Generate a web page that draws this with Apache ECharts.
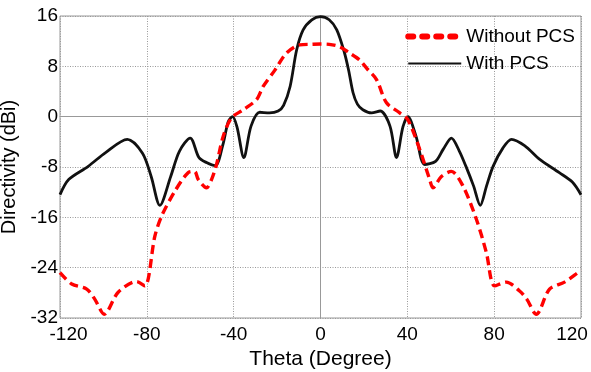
<!doctype html>
<html>
<head>
<meta charset="utf-8">
<title>Directivity</title>
<script src="https://cdn.jsdelivr.net/npm/echarts@6/dist/echarts.min.js"></script>
<style>
  html, body { margin: 0; padding: 0; background: #fff; }
  #main { width: 591px; height: 372px; }
</style>
</head>
<body>
<div id="main"></div>
<script>
// values
var xTicks = [-120, -80, -40, 0, 40, 80, 120];
var yTicks = [-32, -24, -16, -8, 0, 8, 16];

var withTheta = [-120, -116, -107, -99, -89, -82, -78, -74, -69, -65, -60, -56, -52.5, -48.5, -45, -42.5, -40.5, -38.5, -35.3, -32, -28, -23.5, -19.5, -17, -14, -11, -8, -4, 0,
                 4, 7.5, 11, 13, 15, 17, 19.5, 23.5, 27.5, 32, 35, 38, 40.3, 44, 48, 53, 56.5, 60.3, 64, 67, 70.5, 73.6, 76.5, 79.5, 84, 88, 94, 101, 110, 116, 120];
var withVals  = [-12.4, -10, -7.9, -5.7, -3.6, -5.8, -9.5, -14.1, -9.5, -5.5, -3.4, -6.5, -7.3, -7.8, -4.5, -0.8, 0, -1.6, -6.5, -1.5, 0.7, 0.6, 0.9, 1.8, 4.8, 10.6, 13.8, 15.4, 15.9,
                 15.4, 13.8, 10.2, 7.3, 3.8, 2, 1.1, 0.6, 0.9, -1.5, -6.5, -1.6, 0, -3.1, -7.6, -7.1, -5.2, -3.4, -5.5, -7.9, -11, -14.1, -11, -7.9, -5, -3.6, -4.6, -6.8, -8.9, -10.4, -12.4];

var withoutTheta = [-120, -114.6, -107.7, -104, -99.6, -93.2, -84.7, -80.9, -76.3, -73.2, -67, -61, -58, -56.3, -52.5, -50.2, -47.9, -44.8, -41, -35.6, -29.5, -26.4, -21, -15.7, -9.5, -4, 0,
                    4, 8.9, 13, 18, 21.5, 25.8, 30.4, 36.5, 40.3, 45.7, 50.3, 51.8, 55.7, 60.3, 65.6, 71.8, 76.4, 80.2, 85.6, 91.7, 95, 99.4, 105.5, 112.4, 118.6, 120];
var withoutVals  = [-24.8, -26.6, -27.4, -29, -31.4, -27.9, -26.2, -26.9, -19, -15.8, -11.8, -8.9, -8.7, -10, -11.3, -10, -7.6, -3.1, -0.2, 1.1, 2.7, 4.8, 7.4, 10.1, 11.4, 11.5, 11.55,
                    11.5, 11.1, 10.2, 9, 7.6, 5.9, 2.2, 0.6, -0.5, -5.2, -10, -11.3, -9.5, -8.7, -11, -16.3, -21.6, -26.9, -26.3, -27.7, -29, -31.4, -27.4, -26.3, -24.8, -24.4];

function pairs(xs, ys) {
    var out = [];
    for (var i = 0; i < xs.length; i++) out.push([xs[i], ys[i]]);
    return out;
}

var chart = echarts.init(document.getElementById('main'));
var font = 'Liberation Sans, Arial, sans-serif';
var tickFont = { fontFamily: font, fontSize: 19, color: '#000' };

chart.setOption({
    animation: false,
    grid: {
        left: 60, right: 10, top: 16, bottom: 54,
        outerBoundsMode: 'none',
        containLabel: false,
        show: true, borderColor: '#999', borderWidth: 1
    },
    legend: {
        right: 11, top: 22,
        orient: 'vertical',
        itemWidth: 53, itemHeight: 14, itemGap: 8,
        itemStyle: { opacity: 0 },
        textStyle: { fontFamily: font, fontSize: 19, color: '#000' },
        data: [
            { name: 'Without PCS', lineStyle: { width: 6, type: [5, 9], cap: 'round', color: '#ff0000' } },
            { name: 'With PCS', lineStyle: { width: 2.2, color: '#111' } }
        ]
    },
    xAxis: {
        type: 'value',
        min: -120, max: 120, interval: 40,
        name: 'Theta (Degree)',
        nameLocation: 'middle',
        nameGap: 28,
        nameTextStyle: { fontFamily: font, fontSize: 21, color: '#000' },
        axisLine: { lineStyle: { color: '#999' } },
        axisTick: { show: false },
        axisLabel: {
            fontFamily: font, fontSize: 19, color: '#000', margin: 7,
            formatter: function (v) {
                if (v === xTicks[0]) return '{l|' + v + '}';
                if (v === xTicks[xTicks.length - 1]) return '{r|' + v + '}';
                return String(v);
            },
            rich: {
                l: Object.assign({ padding: [0, 0, 0, 17] }, tickFont),
                r: Object.assign({ padding: [0, 18, 0, 0] }, tickFont)
            }
        },
        splitLine: { lineStyle: { color: '#999', type: [1, 1.5] } }
    },
    yAxis: {
        type: 'value',
        min: -32, max: 16, interval: 8,
        name: 'Directivity (dBi)',
        nameLocation: 'middle',
        nameGap: 33,
        nameTextStyle: { fontFamily: font, fontSize: 20, color: '#000' },
        axisLine: { show: true, lineStyle: { color: '#999' } },
        axisTick: { show: false },
        axisLabel: { fontFamily: font, fontSize: 19, color: '#000', margin: 2 },
        splitLine: { lineStyle: { color: '#999', type: [1, 1.5] } }
    },
    series: [
        {
            name: 'Without PCS',
            type: 'line',
            symbol: 'none',
            smooth: 0.3,
            data: pairs(withoutTheta, withoutVals),
            lineStyle: { color: '#ff0000', width: 3.4, type: [9, 5] },
            itemStyle: { color: '#ff0000' },
            z: 3
        },
        {
            name: 'With PCS',
            type: 'line',
            symbol: 'none',
            smooth: 0.3,
            data: pairs(withTheta, withVals),
            lineStyle: { color: '#111', width: 2.8 },
            itemStyle: { color: '#111' },
            z: 2
        }
    ]
});
</script>
</body>
</html>
